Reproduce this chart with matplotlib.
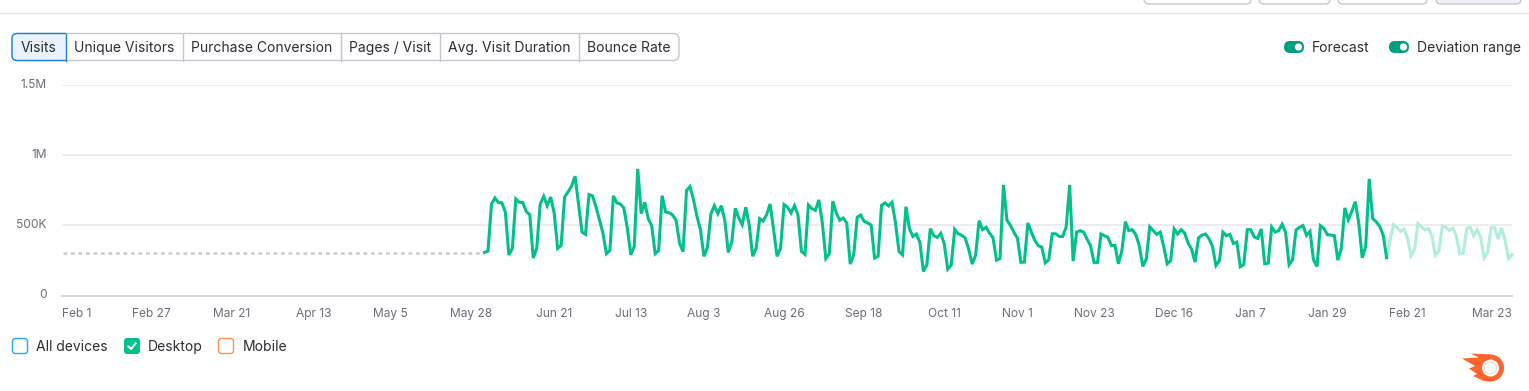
import numpy as np
from matplotlib import pyplot as plt
from matplotlib.patches import Circle, FancyBboxPatch, Polygon, Rectangle

plt.rcParams["font.family"] = ["Inter", "DejaVu Sans"]

# visits in thousands, one value per day
first_day = 120
history = [
    307, 317, 652, 695, 662, 660, 593, 288, 336,
    688, 664, 662, 598, 576, 267, 338,
    652, 707, 640, 702, 588, 336, 357,
    702, 738, 779, 850, 648, 452, 436,
    719, 710, 631, 540, 445, 298, 321,
    710, 660, 652, 624, 481, 290, 350,
    902, 583, 664, 548, 498, 298, 321,
    712, 595, 590, 574, 536, 374, 312,
    748, 776, 683, 564, 469, 279, 343,
    581, 640, 583, 640, 533, 307, 383,
    621, 552, 505, 629, 505, 279, 338,
    548, 531, 576, 652, 469, 279, 338,
    648, 629, 588, 640, 574, 314, 293,
    645, 619, 607, 681, 517, 264, 298,
    671, 588, 536, 552, 517, 224, 290,
    557, 574, 529, 517, 502, 267, 279,
    643, 660, 638, 664, 517, 314, 290,
    633, 476, 421, 438, 379, 171, 219,
    476, 426, 414, 443, 367, 188, 217,
    471, 440, 429, 410, 331, 224, 286,
    533, 469, 486, 445, 410, 252, 264,
    788, 536, 500, 450, 410, 236, 238,
    517, 452, 393, 355, 345, 233, 255,
    440, 440, 421, 421, 488, 788, 245,
    452, 462, 452, 402, 355, 236, 236,
    438, 426, 414, 355, 357, 226, 321,
    526, 462, 469, 433, 355, 207, 260,
    490, 462, 436, 452, 350, 226, 248,
    474, 438, 469, 445, 374, 331, 238,
    410, 431, 438, 405, 350, 214, 248,
    452, 426, 436, 371, 381, 205, 221,
    469, 469, 417, 407, 474, 226, 231,
    488, 452, 462, 507, 450, 219, 255,
    467, 486, 498, 429, 457, 255, 207,
    498, 479, 433, 431, 426, 252, 336,
    624, 540, 600, 669, 517, 269, 350,
    831, 548, 526, 493, 433, 269,
]
forecast = [
    398, 505, 486, 457, 474, 410, 283, 326,
    512, 488, 469, 476, 426, 286, 317,
    495, 488, 462, 479, 426, 295, 302,
    479, 486, 426, 469, 417, 267, 307,
    483, 483, 402, 483, 393, 262, 290,
]
no_data_days = [-1, 120]
no_data_visits = [305, 305]

tick_days = [-1.3, 24.5, 47.5, 71, 93, 116, 140, 162, 183, 206, 229, 252, 273, 295, 318, 340, 362, 385, 415]
tick_labels = ["Feb 1", "Feb 27", "Mar 21", "Apr 13", "May 5", "May 28", "Jun 21", "Jul 13", "Aug 3",
               "Aug 26", "Sep 18", "Oct 11", "Nov 1", "Nov 23", "Dec 16", "Jan 7", "Jan 29", "Feb 21",
               "Mar 23"]
y_ticks = [0, 500, 1000, 1500]
y_labels = ["0", "500K", "1M", "1.5M"]

tabs = ["Visits", "Unique Visitors", "Purchase Conversion", "Pages / Visit", "Avg. Visit Duration", "Bounce Rate"]
tab_edges = [12, 66, 183, 341, 440, 579, 679]

W, H = 1529, 391
GREEN = "#00C08B"
TEXT = "#2B2E33"
BORDER = "#C4C7D0"
BLUE = "#1D7FD0"

fig = plt.figure(figsize=(W / 100, H / 100), dpi=100)

# page furniture is drawn in pixel coordinates
ui = fig.add_axes([0, 0, 1, 1])
ui.set_xlim(0, W)
ui.set_ylim(H, 0)
ui.axis("off")


def rounded(x0, y0, x1, y1, rad, **kw):
    p = FancyBboxPatch((x0 + rad, y0 + rad), x1 - x0 - 2 * rad, y1 - y0 - 2 * rad,
                       boxstyle=f"round,pad={rad},rounding_size={rad}", **kw)
    ui.add_patch(p)
    return p


ui.plot([0, W], [13, 13], color="#E4E4EA", lw=1)

# buttons cut off by the top of the picture
for x0, x1, fc in [(1144, 1251, "white"), (1259, 1330, "white"), (1338, 1427, "white"), (1436, 1521, "#F1F1F5")]:
    rounded(x0, -12, x1, 4, 5, fc=fc, ec=BORDER, lw=1)

# tabs
rounded(12, 33.5, 679, 60.5, 6, fc="white", ec=BORDER, lw=1)
active = rounded(12, 33.5, 80, 60.5, 5, fc="#E9F2FD", ec=BLUE, lw=1, zorder=3)
active.set_clip_path(Rectangle((10, 30), 56, 34, transform=ui.transData))
ui.plot([66, 66], [33.5, 60.5], color=BLUE, lw=1, zorder=4)
for e in tab_edges[2:-1]:
    ui.plot([e, e], [33.5, 60.5], color=BORDER, lw=1)
for i, t in enumerate(tabs):
    ui.text((tab_edges[i] + tab_edges[i + 1]) / 2, 47.8, t, fontsize=10, color=TEXT, ha="center", va="center",
            zorder=5)

# toggles
for x0, label in [(1284, "Forecast"), (1389, "Deviation range")]:
    rounded(x0, 41, x0 + 20, 53, 6, fc="#009F81", ec="none")
    ui.add_patch(Circle((x0 + 14.5, 47), 3.6, fc="white", ec="none"))
    ui.text(x0 + 28, 47.8, label, fontsize=10, color=TEXT, ha="left", va="center")

# device checkboxes
rounded(12.5, 338.5, 27.5, 353.5, 3, fc="white", ec="#2BA6F5", lw=1)
ui.text(36, 346.8, "All devices", fontsize=10, color=TEXT, ha="left", va="center")
rounded(124, 338, 140, 354, 3, fc=GREEN, ec="none")
ui.plot([128.5, 131, 135.5], [346.5, 349, 343.5], color="white", lw=1.5)
ui.text(148, 346.8, "Desktop", fontsize=10, color=TEXT, ha="left", va="center")
rounded(218.5, 338.5, 233.5, 353.5, 3, fc="white", ec="#FF9150", lw=1)
ui.text(243, 346.8, "Mobile", fontsize=10, color=TEXT, ha="left", va="center")

# logo
LOGO = "#FF642D"
ui.add_patch(Polygon([(1470.5, 353.5), (1491, 354.5), (1491, 381.5), (1484, 381), (1473, 376), (1477, 374),
                      (1469, 368.5), (1475, 366), (1462, 358.5), (1479, 357.5)], fc=LOGO, ec="none"))
ui.add_patch(Circle((1490.5, 368), 13.5, fc=LOGO, ec="none"))
ui.add_patch(Circle((1490.5, 368), 8.5, fc="white", ec="none"))
ui.add_patch(Circle((1490.5, 368), 6, fc="none", ec="#FFC4AC", lw=0.5))

# chart
ax = fig.add_axes([62 / W, 1 - 295.5 / H, (1512 - 62) / W, (295.5 - 85) / H])
ax.patch.set_alpha(0)
ax.set_xlim(-1.3, 415)
ax.set_ylim(0, 1500)

history_days = np.arange(len(history)) + first_day
forecast_days = np.arange(len(forecast)) + history_days[-1] + 1
ax.plot(no_data_days, no_data_visits, color="#C9CAD2", lw=1.8, dashes=(1.5, 1.5))
ax.plot(np.r_[history_days[-1], forecast_days], np.r_[history[-1], forecast], color="#B2EEDC", lw=2.2,
        solid_joinstyle="miter", clip_on=False)
ax.plot(history_days, history, color=GREEN, lw=2.2, solid_joinstyle="miter", clip_on=False)

for s in ["top", "left", "right"]:
    ax.spines[s].set_visible(False)
ax.spines["bottom"].set_color("#D8D8E0")
ax.spines["bottom"].set_linewidth(1.5)
ax.set_axisbelow(True)
ax.grid(axis="y", color="#EBEBF0", lw=1.3)
ax.set_yticks(y_ticks, y_labels)
ax.set_xticks(tick_days, tick_labels)
ax.tick_params(length=0, labelsize=8.6, labelcolor="#6C6E79")
ax.tick_params(axis="x", pad=9)
ax.tick_params(axis="y", pad=11)
xlabels = ax.get_xticklabels()
xlabels[0].set_ha("left")
xlabels[-1].set_ha("right")
for lab in ax.get_yticklabels():
    lab.set_va("center")

fig.savefig("out.png", dpi=100)
